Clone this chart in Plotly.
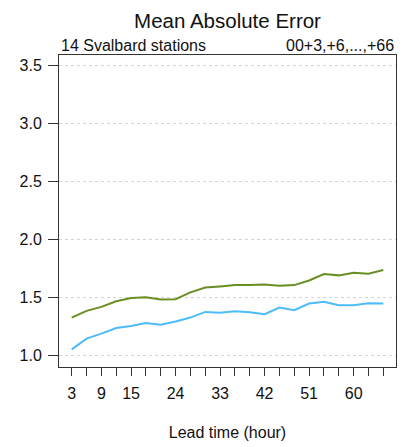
import plotly.graph_objects as go

lead_time = list(range(3, 67, 3))
labeled_ticks = [3, 9, 15, 24, 33, 42, 51, 60]
mae_green = [1.326, 1.384, 1.418, 1.467, 1.494, 1.502, 1.482, 1.485, 1.543, 1.586, 1.595,
             1.606, 1.606, 1.612, 1.600, 1.606, 1.646, 1.701, 1.690, 1.713, 1.705, 1.736]
mae_blue = [1.052, 1.145, 1.188, 1.236, 1.254, 1.280, 1.265, 1.292, 1.326, 1.375, 1.367,
            1.381, 1.372, 1.355, 1.413, 1.390, 1.447, 1.462, 1.433, 1.433, 1.450, 1.447]
y_ticks = [1.0, 1.5, 2.0, 2.5, 3.0, 3.5]
y_labels = ["1.0", "1.5", "2.0", "2.5", "3.0", "3.5"]

font = "Liberation Sans, Arial, Helvetica, sans-serif"

# page body has an 8px margin; figure sized to fill the remaining window
W, H = 398, 439

fig = go.Figure()
fig.add_trace(go.Scatter(x=lead_time, y=mae_green, mode="lines",
                         line=dict(color="#6B8E23", width=2), showlegend=False))
fig.add_trace(go.Scatter(x=lead_time, y=mae_blue, mode="lines",
                         line=dict(color="#4CBCFA", width=2), showlegend=False))

fig.update_layout(
    width=W, height=H,
    margin=dict(l=51, r=10, t=47, b=80),
    paper_bgcolor="white", plot_bgcolor="white",
    font=dict(family=font, color="#111", size=16),
    title=dict(text="Mean Absolute Error", x=219.5 / W, xanchor="center",
               y=1 - 13 / H, yanchor="middle",
               font=dict(size=20.5, family=font, color="#111")),
    xaxis=dict(range=[0.43, 68.57], tickvals=lead_time,
               ticktext=[str(v) if v in labeled_ticks else "" for v in lead_time],
               ticks="outside", ticklen=8, tickcolor="#333", tickwidth=1,
               showgrid=False, zeroline=False, automargin=False,
               showline=True, linecolor="#333", linewidth=1, mirror=True,
               ticklabelstandoff=4,
               title=dict(text="Lead time (hour)", standoff=25, font=dict(size=16)),
               tickfont=dict(size=16)),
    yaxis=dict(range=[0.9, 3.59], tickvals=y_ticks, ticktext=y_labels,
               ticks="outside", ticklen=10, tickcolor="#333", tickwidth=1,
               showgrid=True, gridcolor="#d4d4d4", griddash="dot", gridwidth=1,
               zeroline=False, showline=True, linecolor="#333", linewidth=1, mirror=True,
               automargin=False,
               ticklabelstandoff=3, tickfont=dict(size=16)),
    annotations=[
        dict(text="14 Svalbard stations", xref="paper", yref="paper", x=0, y=1,
             xanchor="left", yanchor="bottom", showarrow=False, yshift=-1,
             font=dict(size=16, family=font, color="#111")),
        dict(text="00+3,+6,...,+66", xref="paper", yref="paper", x=1, y=1,
             xanchor="right", yanchor="bottom", showarrow=False, yshift=-1,
             font=dict(size=16, family=font, color="#111")),
    ],
)

fig.write_html("out.html")
